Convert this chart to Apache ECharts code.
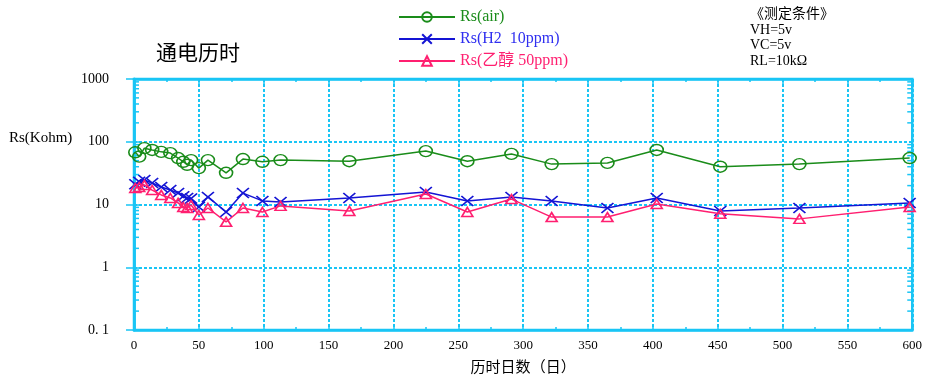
<!DOCTYPE html>
<html><head><meta charset="utf-8">
<script src="https://cdn.jsdelivr.net/npm/echarts@6/dist/echarts.min.js"></script>
<style>html,body{margin:0;padding:0;background:#fff}#c{width:925px;height:385px}</style>
</head><body><div id="c"></div>
<script>
// ---- data ----
const days = [1,4,8,14,21,28,34,38,41,44,50,57,71,84,99,113,166,225,257,291,322,365,403,452,513,598];
const rsAir = [68,58,79,74,69,66,55,48,43,51,38,51,32,53,48,51,49,71,49,64,44,46,74,40,44,55];
const rsH2 = [21,23,24.6,22,19,17,15.2,13.5,12.7,12.5,9.1,13.2,7.6,15.2,11.4,11,12.7,15.8,11.4,13.2,11.4,8.8,12.7,7.9,8.8,10.6];
const rsEthanol = [18.3,19,20.5,17,14.2,12.7,10.6,9.1,8.8,9.8,6.8,8.8,5.3,8.8,7.6,9.5,7.9,14.7,7.6,12.2,6.3,6.3,10.2,7.1,5.9,9.1];
const seriesNames = ['Rs(air)', 'Rs(H2  10ppm)', 'Rs(乙醇 50ppm)'];
const yTickLabels = {0.1:'0. 1', 1:'1', 10:'10', 100:'100', 1000:'1000'};
const minorVals = [];
[0.1,1,10,100].forEach(d => { for (let k = 2; k <= 9; k++) minorVals.push(+(d*k).toPrecision(3)); });

const green = '#1a8c1a', blue = '#1414d4', pink = '#ff1f70', cyan = '#19c5f5';
const FONT = "'Liberation Serif','Noto Sans CJK SC',serif";
const crossPath = 'path://M0,0L10,10M10,0L0,10';

const pair = arr => days.map((d, i) => [d, arr[i]]);

const chart = echarts.init(document.getElementById('c'), null, {renderer: 'canvas'});
chart.setOption({
  animation: false,
  backgroundColor: '#fff',
  textStyle: {fontFamily: FONT},
  title: [
    {text: '通电历时', left: 151, top: 39, textStyle: {fontFamily: FONT, fontSize: 21, fontWeight: 'normal', color: '#000'}},
    {text: 'Rs(Kohm)', left: 4, top: 126, textStyle: {fontFamily: FONT, fontSize: 15, fontWeight: 'normal', color: '#000'}},
    {text: '《测定条件》\nVH=5v\nVC=5v\nRL=10kΩ', left: 745, top: 2,
     textStyle: {fontFamily: FONT, fontSize: 14, fontWeight: 'normal', color: '#000', lineHeight: 15.5}}
  ],
  legend: {
    orient: 'vertical', left: 393, top: 4, itemWidth: 56, itemHeight: 12, itemGap: 6,
    textStyle: {fontFamily: FONT, fontSize: 16},
    data: [
      {name: seriesNames[0], textStyle: {color: green}},
      {name: seriesNames[1], textStyle: {color: '#3030f0'}},
      {name: seriesNames[2], textStyle: {color: pink}}
    ]
  },
  grid: {left: 134, right: 9, top: 79, bottom: 55, show: true, borderColor: cyan, borderWidth: 2.5},
  xAxis: [
    {type: 'value', min: 0, max: 600, interval: 50, position: 'bottom',
     name: '历时日数（日）', nameLocation: 'middle', nameGap: 31,
     nameTextStyle: {fontFamily: FONT, fontSize: 15, color: '#000'},
     axisLine: {show: true, lineStyle: {color: cyan, width: 2.5}},
     axisTick: {show: true, inside: true, length: 5, lineStyle: {color: cyan, width: 1.5}},
     minorTick: {show: true, splitNumber: 2, length: 3, lineStyle: {color: cyan, width: 1.5}},
     axisLabel: {color: '#000', fontFamily: FONT, fontSize: 13, margin: 9},
     splitLine: {show: true, lineStyle: {color: cyan, width: 2, type: [3, 2]}}},
    {type: 'value', min: 0, max: 600, interval: 50, position: 'top',
     axisLine: {show: true, lineStyle: {color: cyan, width: 2.5}},
     axisTick: {show: true, inside: true, length: 5, lineStyle: {color: cyan, width: 1.5}},
     minorTick: {show: true, splitNumber: 2, length: 3, lineStyle: {color: cyan, width: 1.5}},
     axisLabel: {show: false}, splitLine: {show: false}}
  ],
  yAxis: [
    {type: 'log', logBase: 10, min: 0.1, max: 1000, position: 'left',
     axisLine: {show: true, lineStyle: {color: cyan, width: 2.5}},
     axisTick: {show: true, inside: true, length: 8, lineStyle: {color: cyan, width: 1.5}},
     axisLabel: {color: '#000', fontFamily: FONT, fontSize: 14, margin: 25,
       formatter: v => yTickLabels[+(+v).toPrecision(3)] || ''},
     splitLine: {show: true, lineStyle: {color: cyan, width: 2, type: [3, 2]}}},
    {type: 'log', logBase: 10, min: 0.1, max: 1000, position: 'right',
     axisLine: {show: true, lineStyle: {color: cyan, width: 2.5}},
     axisTick: {show: true, inside: true, length: 8, lineStyle: {color: cyan, width: 1.5}},
     axisLabel: {show: false}, splitLine: {show: false}}
  ],
  series: [
    {type: 'custom', name: 'minorTicks', silent: true, z: 1,
     data: minorVals.map(v => [0, v]),
     renderItem: (params, api) => {
       const v = api.value(1);
       const l = api.coord([0, v]), r = api.coord([600, v]);
       const st = {stroke: cyan, lineWidth: 1.5};
       return {type: 'group', children: [
         {type: 'line', shape: {x1: l[0], y1: l[1], x2: l[0] + 5, y2: l[1]}, style: st},
         {type: 'line', shape: {x1: r[0] - 5, y1: r[1], x2: r[0], y2: r[1]}, style: st}
       ]};
     }},
    {type: 'line', name: seriesNames[0], data: pair(rsAir), z: 3,
     symbol: 'circle', symbolSize: [13, 11],
     lineStyle: {color: green, width: 1.5},
     itemStyle: {color: 'rgba(255,255,255,0)', borderColor: green, borderWidth: 1.5}},
    {type: 'line', name: seriesNames[1], data: pair(rsH2), z: 4,
     symbol: crossPath, symbolSize: [12, 10],
     lineStyle: {color: blue, width: 1.5},
     itemStyle: {color: 'rgba(255,255,255,0)', borderColor: blue, borderWidth: 1.6}},
    {type: 'line', name: seriesNames[2], data: pair(rsEthanol), z: 5,
     symbol: 'triangle', symbolSize: [11, 9],
     lineStyle: {color: pink, width: 1.5},
     itemStyle: {color: 'rgba(255,255,255,0)', borderColor: pink, borderWidth: 1.6}}
  ]
});
</script>
</body></html>
